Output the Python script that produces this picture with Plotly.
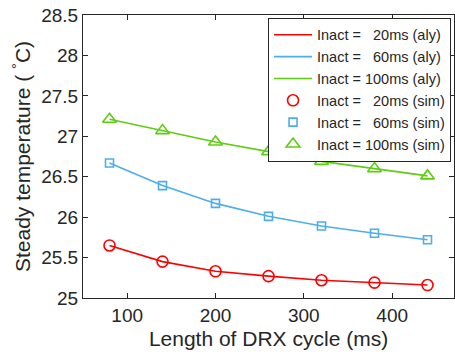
import plotly.graph_objects as go

drx = [80, 140, 200, 260, 320, 380, 440]
t20 = [25.65, 25.45, 25.33, 25.27, 25.22, 25.19, 25.16]
t60 = [26.67, 26.39, 26.17, 26.01, 25.89, 25.80, 25.72]
t100 = [27.21, 27.07, 26.93, 26.81, 26.69, 26.60, 26.51]
colors = ["#FF0000", "#4DAEEA", "#5FCC14"]
names = ["Inact =\u00a0\u00a0\u00a020ms", "Inact =\u00a0\u00a0\u00a060ms", "Inact = 100ms"]
symbols = ["circle-open", "square-open", "triangle-up-open"]
sizes = [11, 8, 12]
series = [t20, t60, t100]

fig = go.Figure()
for s, c, n in zip(series, colors, names):
    fig.add_trace(go.Scatter(x=drx, y=s, mode="lines", line=dict(color=c, width=1.6),
                             name=n + " (aly)"))
for s, c, n, sym, sz in zip(series, colors, names, symbols, sizes):
    fig.add_trace(go.Scatter(x=drx, y=s, mode="markers",
                             marker=dict(symbol=sym, color=c, size=sz, line=dict(width=1.6, color=c)),
                             name=n + " (sim)"))

axis_common = dict(showline=True, linecolor="#262626", linewidth=1, mirror="ticks",
                   ticks="inside", ticklen=5, tickcolor="#262626", showgrid=False,
                   zeroline=False, tickfont=dict(size=19, color="#262626"))
fig.update_xaxes(range=[50, 470], tickvals=[100, 200, 300, 400],
                 title=dict(text="Length of DRX cycle (ms)", font=dict(size=21, color="#262626"), standoff=6),
                 **axis_common)
fig.update_yaxes(range=[25, 28.5], tickvals=[25, 25.5, 26, 26.5, 27, 27.5, 28, 28.5],
                 ticktext=["25", "25.5", "26", "26.5", "27", "27.5", "28", "28.5"],
                 title=dict(text="Steady temperature ( <sup>°</sup>C)", font=dict(size=21, color="#262626"), standoff=4),
                 **axis_common)
fig.update_layout(width=455, height=358, margin=dict(l=83, r=1, t=15, b=60),
                  plot_bgcolor="white", paper_bgcolor="white",
                  font=dict(family="Liberation Sans, Arial, sans-serif", color="#262626"),
                  legend=dict(x=0.992, y=0.99, xanchor="right", yanchor="top",
                              bgcolor="white", bordercolor="#262626", borderwidth=1,
                              font=dict(size=14.5, color="#262626"), tracegroupgap=0,
                              itemwidth=38))
fig.write_html("out.html")
